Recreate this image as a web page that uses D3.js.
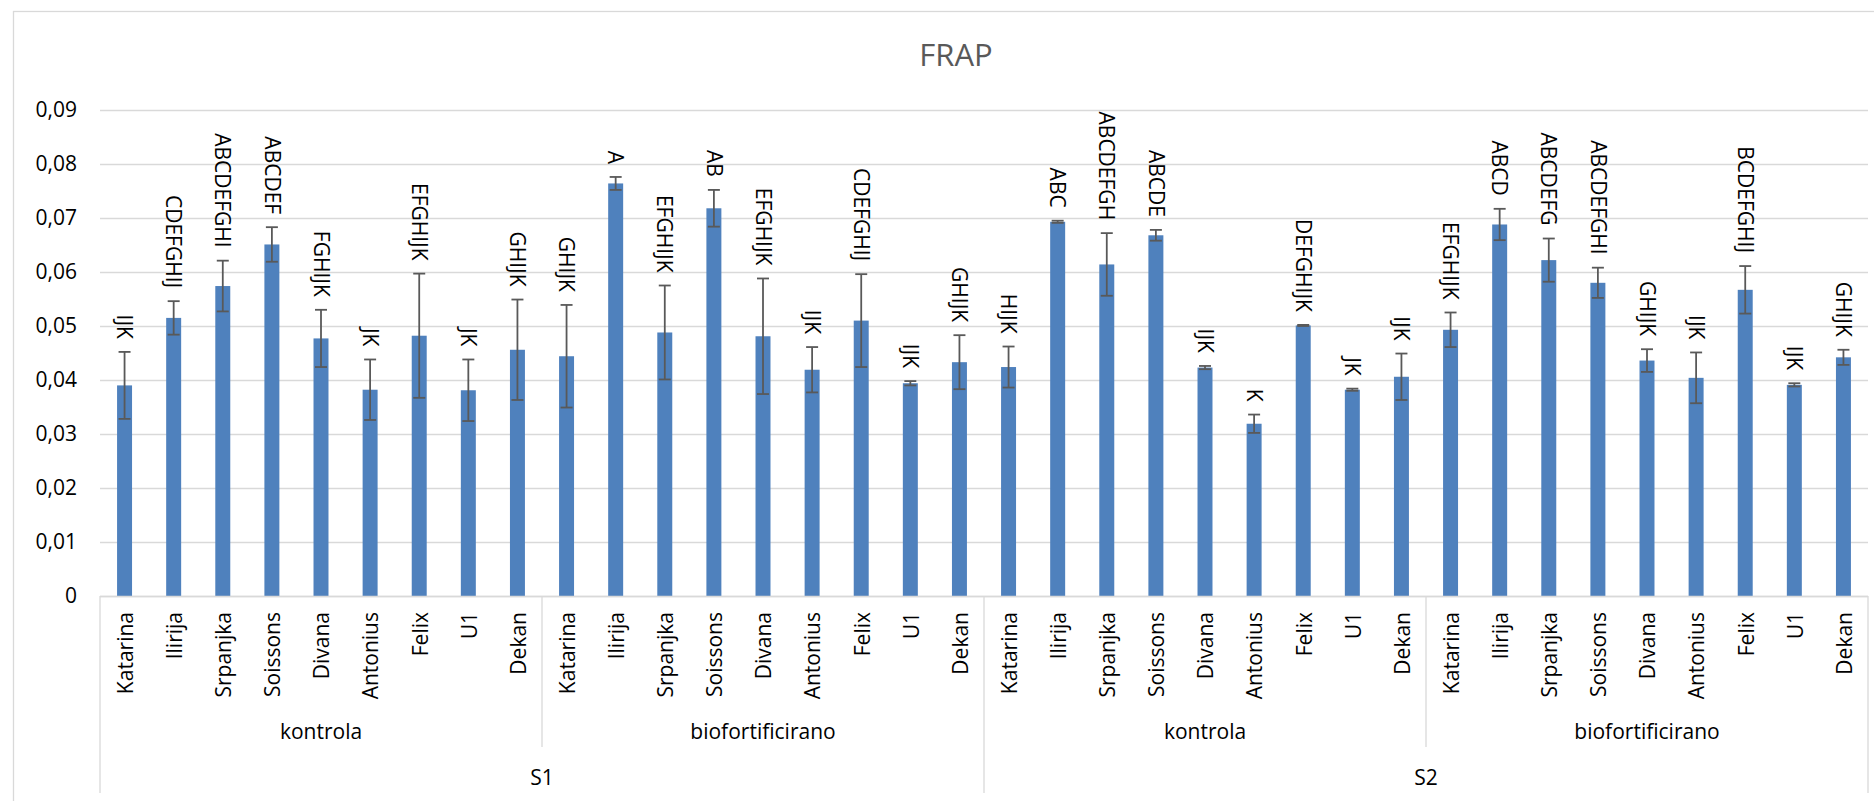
<!DOCTYPE html>
<html>
<head>
<meta charset="utf-8">
<script src="https://cdn.jsdelivr.net/npm/d3@7"></script>
<style>
  html, body { margin: 0; padding: 0; background: #fff; }
  svg { display: block; font-family: "Open Sans", sans-serif; }
</style>
</head>
<body>
<svg id="chart" width="1874" height="801"></svg>
<script>
// ---- data ----
const title = "FRAP";
const sites = ["S1", "S2"];
const treatments = ["kontrola", "biofortificirano"];
const cultivars = ["Katarina", "Ilirija", "Srpanjka", "Soissons", "Divana", "Antonius", "Felix", "U1", "Dekan"];

// mean FRAP values, order: S1 kontrola, S1 biofortificirano, S2 kontrola, S2 biofortificirano
const values = [
  0.0390, 0.0515, 0.0574, 0.0651, 0.0477, 0.0382, 0.0482, 0.0381, 0.0456,
  0.0444, 0.0764, 0.0488, 0.0718, 0.0481, 0.0419, 0.0510, 0.0394, 0.0433,
  0.0424, 0.0693, 0.0614, 0.0668, 0.0423, 0.0319, 0.0501, 0.0382, 0.0406,
  0.0493, 0.0688, 0.0622, 0.0580, 0.0436, 0.0404, 0.0567, 0.0391, 0.0442
];
const errors = [
  0.0062, 0.0031, 0.0047, 0.0032, 0.0053, 0.0056, 0.0115, 0.0057, 0.0093,
  0.0095, 0.0012, 0.0087, 0.0034, 0.0107, 0.0042, 0.0086, 0.0004, 0.0050,
  0.0038, 0.0002, 0.0058, 0.0010, 0.0003, 0.0017, 0.0001, 0.0002, 0.0043,
  0.0032, 0.0029, 0.0040, 0.0028, 0.0021, 0.0047, 0.0044, 0.0003, 0.0014
];
const letters = [
  "IJK", "CDEFGHIJ", "ABCDEFGHI", "ABCDEF", "FGHIJK", "JK", "EFGHIJK", "JK", "GHIJK",
  "GHIJK", "A", "EFGHIJK", "AB", "EFGHIJK", "IJK", "CDEFGHIJ", "IJK", "GHIJK",
  "HIJK", "ABC", "ABCDEFGH", "ABCDE", "IJK", "K", "DEFGHIJK", "JK", "IJK",
  "EFGHIJK", "ABCD", "ABCDEFG", "ABCDEFGHI", "GHIJK", "IJK", "BCDEFGHIJ", "IJK", "GHIJK"
];
const yTicks = [0, 0.01, 0.02, 0.03, 0.04, 0.05, 0.06, 0.07, 0.08, 0.09];
const yTickLabels = ["0", "0,01", "0,02", "0,03", "0,04", "0,05", "0,06", "0,07", "0,08", "0,09"];

// ---- build rows ----
const rows = [];
sites.forEach((s, si) => treatments.forEach((t, ti) => cultivars.forEach((c, ci) => {
  const i = si * treatments.length * cultivars.length + ti * cultivars.length + ci;
  rows.push({ key: s + "|" + t + "|" + c, site: s, treat: t, cult: c, v: values[i], e: errors[i], lab: letters[i] });
})));

// ---- layout ----
const svg = d3.select("#chart");
const plotL = 100, plotR = 1868, plotT = 110, plotB = 596;
const x = d3.scaleBand().domain(rows.map(d => d.key)).range([plotL, plotR]).paddingInner(0.695).paddingOuter(0.3475);
const y = d3.scaleLinear().domain([0, 0.09]).range([plotB, plotT]);
const fs = 21;

// chart frame
svg.append("rect").attr("x", 13.5).attr("y", 11.5).attr("width", 1886).attr("height", 820)
  .attr("fill", "none").attr("stroke", "#d9d9d9").attr("stroke-width", 1.3);

// title
svg.append("text").attr("x", 956).attr("y", 66).attr("text-anchor", "middle")
  .attr("font-size", 31).attr("fill", "#595959").text(title);

// gridlines + y labels
const yAxis = d3.axisLeft(y).tickValues(yTicks).tickSize(-(plotR - plotL)).tickPadding(23)
  .tickFormat((d, i) => yTickLabels[i]);
const gy = svg.append("g").attr("transform", `translate(${plotL},0)`).call(yAxis);
gy.select(".domain").remove();
gy.selectAll(".tick line").attr("stroke", "#d9d9d9").attr("stroke-width", 1.3);
gy.selectAll(".tick text").attr("font-size", fs).attr("fill", "#000").attr("font-family", "Open Sans");

// bars
svg.append("g").selectAll("rect").data(rows).join("rect")
  .attr("x", d => x(d.key)).attr("width", x.bandwidth())
  .attr("y", d => y(d.v)).attr("height", d => y(0) - y(d.v))
  .attr("fill", "#4f81bd");

// error bars
const eg = svg.append("g").attr("stroke", "#595959").attr("stroke-width", 1.8);
const cx = d => x(d.key) + x.bandwidth() / 2;
eg.selectAll(".ev").data(rows).join("line")
  .attr("x1", cx).attr("x2", cx).attr("y1", d => y(d.v + d.e)).attr("y2", d => y(d.v - d.e));
eg.selectAll(".et").data(rows).join("line")
  .attr("x1", d => cx(d) - 6).attr("x2", d => cx(d) + 6).attr("y1", d => y(d.v + d.e)).attr("y2", d => y(d.v + d.e));
eg.selectAll(".eb").data(rows).join("line")
  .attr("x1", d => cx(d) - 6).attr("x2", d => cx(d) + 6).attr("y1", d => y(d.v - d.e)).attr("y2", d => y(d.v - d.e));

// letter labels
svg.append("g").selectAll("text").data(rows).join("text")
  .attr("transform", d => `translate(${cx(d)},${y(d.v + d.e) - 13}) rotate(90)`)
  .attr("text-anchor", "end").attr("dy", "0.35em")
  .attr("font-size", fs).attr("fill", "#000").text(d => d.lab);

// x axis line
svg.append("line").attr("x1", plotL).attr("x2", plotR).attr("y1", plotB + 0.5).attr("y2", plotB + 0.5)
  .attr("stroke", "#d9d9d9").attr("stroke-width", 1.3);

// category labels
svg.append("g").selectAll("text").data(rows).join("text")
  .attr("transform", d => `translate(${cx(d) + 1},612) rotate(-90)`)
  .attr("text-anchor", "end").attr("dy", "0.35em")
  .attr("font-size", fs).attr("fill", "#000").text(d => d.cult);

// group separators and labels
const groupW = x.step() * cultivars.length;
const nGroups = sites.length * treatments.length;
for (let g = 0; g <= nGroups; g++) {
  const gx = plotL + g * groupW;
  const full = (g % treatments.length === 0);
  svg.append("line").attr("x1", gx).attr("x2", gx).attr("y1", plotB).attr("y2", full ? 793 : 747)
    .attr("stroke", "#d9d9d9").attr("stroke-width", 1.3);
}
sites.forEach((s, si) => {
  treatments.forEach((t, ti) => {
    const g = si * treatments.length + ti;
    svg.append("text").attr("x", plotL + (g + 0.5) * groupW).attr("y", 739)
      .attr("text-anchor", "middle").attr("font-size", fs).attr("fill", "#000").text(t);
  });
  svg.append("text").attr("x", plotL + (si + 0.5) * groupW * treatments.length).attr("y", 785)
    .attr("text-anchor", "middle").attr("font-size", fs).attr("fill", "#000").text(s);
});
</script>
</body>
</html>
